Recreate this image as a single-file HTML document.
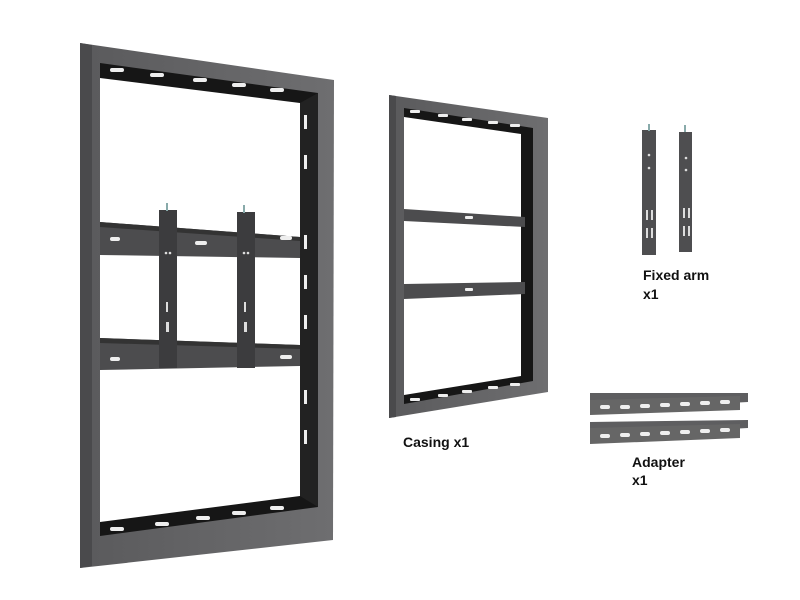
<!DOCTYPE html>
<html><head><meta charset="utf-8"><style>
html,body{margin:0;padding:0;background:#fff;width:800px;height:600px;overflow:hidden}
svg{display:block}
text{font-family:"Liberation Sans",Arial,sans-serif;font-weight:bold;font-size:14px;fill:#111}
</style></head><body>
<svg width="800" height="600" viewBox="0 0 800 600">
<defs>
<linearGradient id="g" x1="0" x2="1"><stop offset="0" stop-color="#5a5a5c"/><stop offset="1" stop-color="#6e6e70"/></linearGradient>
</defs>
<!-- Large frame -->
<polygon points="80,43 334,80 333,540 80,568" fill="url(#g)"/>
<polygon points="80,43 92,45 92,566 80,568" fill="#4a4a4c"/>
<polygon points="100,63 318,93 318,507 100,536" fill="#161616"/>
<polygon points="100,78 300,103 300,496 100,522" fill="#fff"/>
<polygon points="300,103 318,93 318,507 300,496" fill="#222"/>
<g fill="#eee">
<rect x="110" y="68" width="14" height="4" rx="2"/><rect x="150" y="73" width="14" height="4" rx="2"/><rect x="193" y="78" width="14" height="4" rx="2"/><rect x="232" y="83" width="14" height="4" rx="2"/><rect x="270" y="88" width="14" height="4" rx="2"/>
<rect x="110" y="527" width="14" height="4" rx="2"/><rect x="155" y="522" width="14" height="4" rx="2"/><rect x="196" y="516" width="14" height="4" rx="2"/><rect x="232" y="511" width="14" height="4" rx="2"/><rect x="270" y="506" width="14" height="4" rx="2"/>
<rect x="304" y="115" width="3" height="14"/><rect x="304" y="155" width="3" height="14"/><rect x="304" y="235" width="3" height="14"/><rect x="304" y="275" width="3" height="14"/><rect x="304" y="315" width="3" height="14"/><rect x="304" y="390" width="3" height="14"/><rect x="304" y="430" width="3" height="14"/>
</g>
<!-- crossbars -->
<polygon points="100,222 300,237 300,258 100,255" fill="#4c4c4e"/>
<polygon points="100,222 300,237 300,241 100,227" fill="#333"/>
<polygon points="100,338 300,345 300,366 100,370" fill="#4c4c4e"/>
<polygon points="100,338 300,345 300,349 100,343" fill="#333"/>
<g fill="#eee"><rect x="110" y="237" width="10" height="4" rx="2"/><rect x="195" y="241" width="12" height="4" rx="2"/><rect x="280" y="236" width="12" height="4" rx="2"/><rect x="110" y="357" width="10" height="4" rx="2"/><rect x="280" y="355" width="12" height="4" rx="2"/></g>
<!-- brackets -->
<rect x="159" y="210" width="18" height="158" fill="#3c3c3e"/>
<rect x="237" y="212" width="18" height="156" fill="#3c3c3e"/>
<g fill="#ddd"><rect x="166" y="302" width="2" height="10"/><rect x="244" y="302" width="2" height="10"/><rect x="166" y="322" width="3" height="10"/><rect x="244" y="322" width="3" height="10"/><circle cx="166" cy="253" r="1.3"/><circle cx="170" cy="253" r="1.3"/><circle cx="244" cy="253" r="1.3"/><circle cx="248" cy="253" r="1.3"/></g>
<rect x="166" y="203" width="2" height="8" fill="#8aa"/><rect x="243" y="205" width="2" height="8" fill="#8aa"/>
<!-- Casing -->
<polygon points="389,95 548,118 548,392 389,418" fill="url(#g)"/>
<polygon points="389,95 396,96 396,417 389,418" fill="#4a4a4c"/>
<polygon points="404,108 533,128 533,381 404,404" fill="#161616"/>
<polygon points="404,117 521,134 521,376 404,395" fill="#fff"/>
<polygon points="404,209 525,217 525,227 404,221" fill="#4c4c4e"/>
<polygon points="404,284 525,282 525,294 404,299" fill="#4c4c4e"/>
<g fill="#eee"><rect x="410" y="110" width="10" height="3" rx="1"/><rect x="438" y="114" width="10" height="3" rx="1"/><rect x="462" y="118" width="10" height="3" rx="1"/><rect x="488" y="121" width="10" height="3" rx="1"/><rect x="510" y="124" width="10" height="3" rx="1"/>
<rect x="410" y="398" width="10" height="3" rx="1"/><rect x="438" y="394" width="10" height="3" rx="1"/><rect x="462" y="390" width="10" height="3" rx="1"/><rect x="488" y="386" width="10" height="3" rx="1"/><rect x="510" y="383" width="10" height="3" rx="1"/>
<rect x="465" y="216" width="8" height="3" rx="1"/><rect x="465" y="288" width="8" height="3" rx="1"/></g>
<!-- fixed arms -->
<rect x="642" y="130" width="14" height="125" fill="#4e4e50"/>
<rect x="679" y="132" width="13" height="120" fill="#4e4e50"/>
<g fill="#ddd"><circle cx="649" cy="155" r="1.3"/><circle cx="649" cy="168" r="1.3"/><circle cx="686" cy="158" r="1.3"/><circle cx="686" cy="170" r="1.3"/><rect x="646" y="210" width="2" height="10"/><rect x="651" y="210" width="2" height="10"/><rect x="683" y="208" width="2" height="10"/><rect x="688" y="208" width="2" height="10"/><rect x="646" y="228" width="2" height="10"/><rect x="651" y="228" width="2" height="10"/><rect x="683" y="226" width="2" height="10"/><rect x="688" y="226" width="2" height="10"/></g>
<rect x="648" y="124" width="2" height="7" fill="#8aa"/><rect x="684" y="125" width="2" height="7" fill="#8aa"/>
<!-- adapters -->
<polygon points="590,393 748,393 748,402 598,410 590,410" fill="#5e5e60"/>
<polygon points="590,400 740,396 740,410 590,415" fill="#666"/>
<polygon points="590,422 748,420 748,428 598,436 590,436" fill="#5e5e60"/>
<polygon points="590,428 740,424 740,438 590,444" fill="#666"/>
<g fill="#eee"><rect x="600" y="405" width="10" height="4" rx="2"/><rect x="620" y="405" width="10" height="4" rx="2"/><rect x="640" y="404" width="10" height="4" rx="2"/><rect x="660" y="403" width="10" height="4" rx="2"/><rect x="680" y="402" width="10" height="4" rx="2"/><rect x="700" y="401" width="10" height="4" rx="2"/><rect x="720" y="400" width="10" height="4" rx="2"/>
<rect x="600" y="434" width="10" height="4" rx="2"/><rect x="620" y="433" width="10" height="4" rx="2"/><rect x="640" y="432" width="10" height="4" rx="2"/><rect x="660" y="431" width="10" height="4" rx="2"/><rect x="680" y="430" width="10" height="4" rx="2"/><rect x="700" y="429" width="10" height="4" rx="2"/><rect x="720" y="428" width="10" height="4" rx="2"/></g>
<text x="643" y="280">Fixed arm</text>
<text x="643" y="299">x1</text>
<text x="403" y="447">Casing x1</text>
<text x="632" y="467">Adapter</text>
<text x="632" y="485">x1</text>
</svg>
</body></html>
